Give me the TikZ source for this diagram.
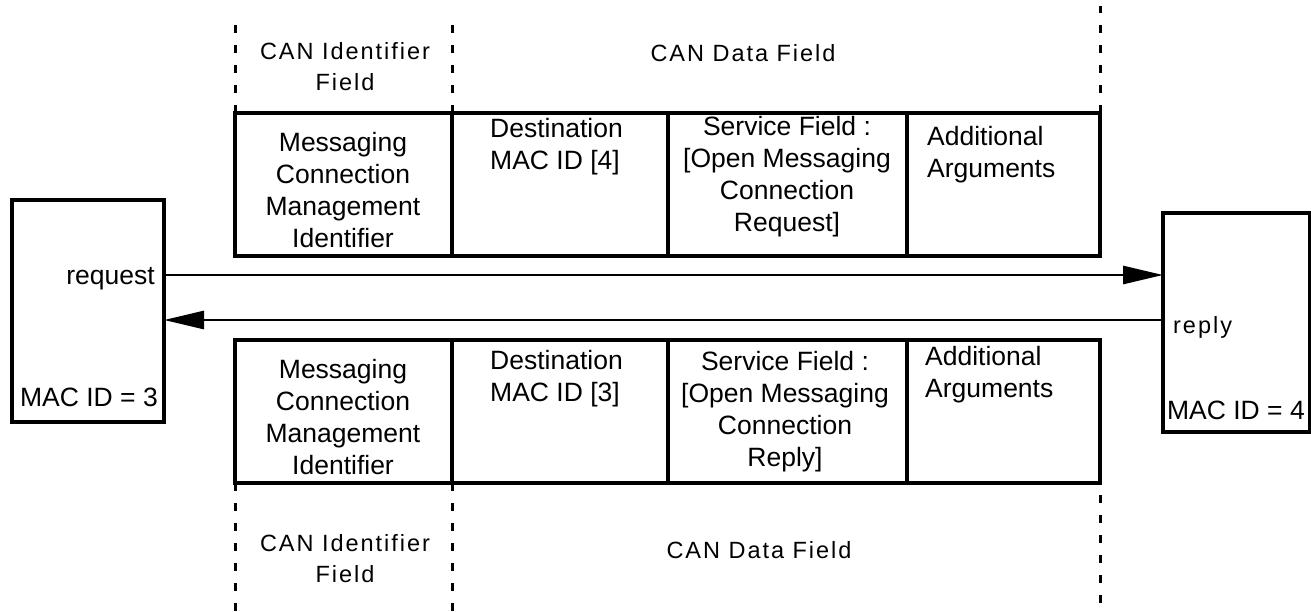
\documentclass[tikz,border=0pt]{standalone}
\usepackage{fontspec}
\setmainfont{Liberation Sans}
\newfontfamily\trackfont[LetterSpace=8.4]{Liberation Sans}
\usetikzlibrary{arrows.meta,positioning}

\begin{document}
\begin{tikzpicture}[x=1pt,y=-1pt,
    cell/.style={draw,line width=3.4pt,minimum height=143pt,inner sep=0pt,outer sep=0pt},
    dev/.style={draw,line width=3.4pt,inner sep=0pt,outer sep=0pt},
    txt/.style={font=\fontsize{26.5}{32}\selectfont,align=center,inner sep=0pt},
    hdr/.style={font=\trackfont\fontsize{23.5}{31}\selectfont,align=center,inner sep=0pt},
    bound/.style={dash pattern=on 8pt off 12pt,line width=3pt},
    msg/.style={line width=2.8pt,-{Triangle[length=40pt,width=18pt]}}]
    \useasboundingbox (0,0) rectangle (1311,611);

    % devices
    \node[dev,minimum width=152pt,minimum height=222pt] (mac3) at (88,311) {};
    \node[dev,minimum width=147pt,minimum height=219pt] (mac4) at (1236.5,322.5) {};
    \node[txt,anchor=east] (reqlbl) at (155,279) {request};
    \node[txt,anchor=east] (id3) at (158,397) {MAC ID = 3};
    \node[hdr,anchor=west] (replbl) at (1173,327) {reply};
    \node[txt,anchor=east] (id4) at (1305,410) {MAC ID = 4};

    % request frame
    \node[cell,minimum width=217pt] (rqid) at (343.5,184.5) {};
    \node[cell,minimum width=216pt] (rqdst) at (560,184.5) {};
    \node[cell,minimum width=239pt] (rqsrv) at (787.5,184.5) {};
    \node[cell,minimum width=193pt] (rqarg) at (1003.5,184.5) {};
    \node[txt] at (343,190) {Messaging\\Connection\\Management\\Identifier};
    \node[txt,align=left,anchor=west] at (490,147) {Destination\\MAC ID [4]};
    \node[txt] at (787,176.5) {Service Field :\\{[Open Messaging}\\Connection\\Request]};
    \node[txt,align=left,anchor=west] at (927,155) {Additional\\Arguments};
    \node[hdr] (rqcanid) at (345,67) {CAN Identifier\\Field};
    \node[hdr] (rqcandata) at (743,53) {CAN Data Field};
    \draw[bound] (rqid.north west) -- (rqid.north west |- 0,18);
    \draw[bound] (rqid.north east) -- (rqid.north east |- 0,15);
    \draw[bound] (rqarg.north east) -- (rqarg.north east |- 0,6);

    % reply frame
    \node[cell,minimum width=217pt] (rpid) at (343.5,411.5) {};
    \node[cell,minimum width=216pt] (rpdst) at (560,411.5) {};
    \node[cell,minimum width=239pt] (rpsrv) at (787.5,411.5) {};
    \node[cell,minimum width=193pt] (rparg) at (1003.5,411.5) {};
    \node[txt] at (343,417.5) {Messaging\\Connection\\Management\\Identifier};
    \node[txt,align=left,anchor=west] at (490,378.5) {Destination\\MAC ID [3]};
    \node[txt] at (785,411.5) {Service Field :\\{[Open Messaging}\\Connection\\Reply]};
    \node[txt,align=left,anchor=west] at (925,375) {Additional\\Arguments};
    \node[hdr] (rpcanid) at (345,559) {CAN Identifier\\Field};
    \node[hdr] (rpcandata) at (759,550) {CAN Data Field};
    \draw[bound] (rpid.south west) -- (rpid.south west |- 0,611);
    \draw[bound] (rpid.south east) -- (rpid.south east |- 0,611);
    \draw[bound] ([yshift=-12pt]rparg.south east) -- (rparg.south east |- 0,611);

    % messages
    \draw[msg] (mac3.east |- 0,275) -- (mac4.west |- 0,275);
    \draw[msg] (mac4.west |- 0,320) -- (mac3.east |- 0,320);
\end{tikzpicture}
\end{document}
